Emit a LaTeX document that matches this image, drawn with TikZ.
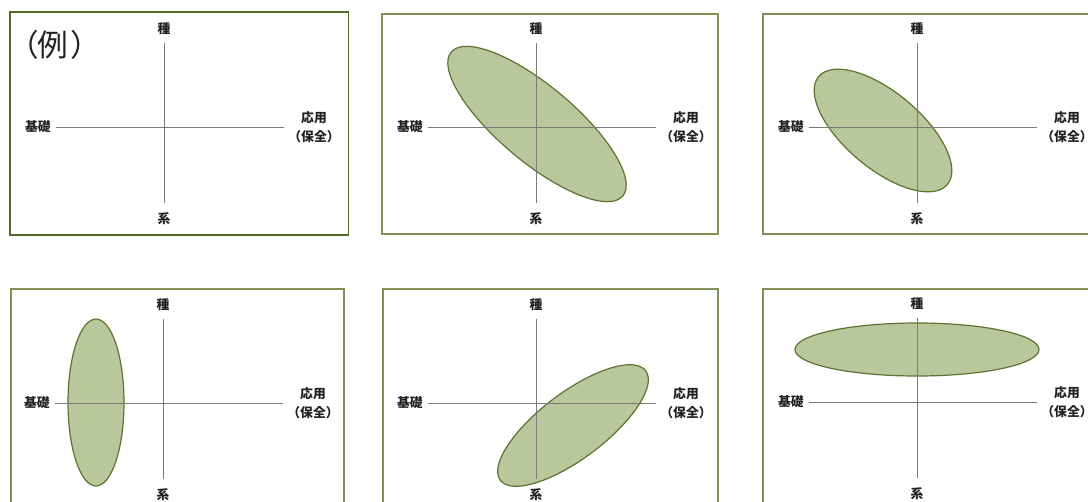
\documentclass[tikz,border=0pt]{standalone}
\usepackage{fontspec}
\newfontfamily\cjk{Noto Sans CJK JP}
\definecolor{frameA}{HTML}{566B2A}
\definecolor{frameB}{HTML}{7F9058}
\definecolor{ellfill}{HTML}{B8C79C}
\definecolor{elldraw}{HTML}{5E7332}
\definecolor{axiscol}{HTML}{7A7A7A}
\definecolor{txt}{HTML}{222222}
\tikzset{
  lab/.style={font=\cjk\bfseries\fontsize{9.6}{14}\selectfont, text=txt, inner sep=0pt},
  axisline/.style={draw=axiscol, line width=0.75pt},
  panel/.style={draw=#1, line width=1.2pt},
  blob/.style={fill=ellfill, draw=elldraw, line width=0.9pt},
  quad/.pic={
    \coordinate (-n) at (0,-84);
    \coordinate (-s) at (0,76);
    \coordinate (-w) at (-108,0);
    \coordinate (-e) at (120,0);
    \node[lab] (-top) at (0,-98) {種};
    \node[lab] (-bot) at (0,92) {系};
    \node[lab, anchor=east] (-left) at (-113,0) {基礎};
    \node[lab, align=center] (-right) at (150,0) {応用\\（保全）};
    \draw[axisline] (-n) -- (-s);
    \draw[axisline] (-w) -- (-e);
  }
}
\begin{document}
\begin{tikzpicture}[x=0.75pt, y=-0.75pt]
\useasboundingbox (0,0) rectangle (1088,501);
\clip (0,0) rectangle (1088,501);
% panels
\draw[panel=frameA] (10,12) rectangle (348.5,235);
\draw[panel=frameB] (382,14) rectangle (718,234);
\draw[panel=frameB] (763,14) rectangle (1120,234);
\draw[panel=frameB] (11,289) rectangle (344,520);
\draw[panel=frameB] (383,289) rectangle (718,520);
\draw[panel=frameB] (763,289) rectangle (1120,520);
% ellipses
\draw[blob, shift={(537,124)}, rotate=-40] (0,0) ellipse [x radius=112, y radius=38];
\draw[blob, shift={(883,130.5)}, rotate=-40] (0,0) ellipse [x radius=84, y radius=38];
\draw[blob] (96,402.5) ellipse [x radius=28, y radius=83.5];
\draw[blob, shift={(573,425.5)}, rotate=37] (0,0) ellipse [x radius=91, y radius=33];
\draw[blob] (917,349.5) ellipse [x radius=122, y radius=26.5];
% quadrants
\pic (q1) at (164,127) {quad};
\pic (q2) at (536,127) {quad};
\pic (q3) at (917,127) {quad};
\pic (q4) at (163,403) {quad};
\pic (q5) at (536,403) {quad};
\pic (q6) at (917,402) {quad};
\node[font=\cjk\fontsize{23}{27}\selectfont, text=txt, inner sep=0pt] (rei) at (55,45) {（\hspace{-1.5pt}例\hspace{2.5pt}）};
\end{tikzpicture}
\end{document}
